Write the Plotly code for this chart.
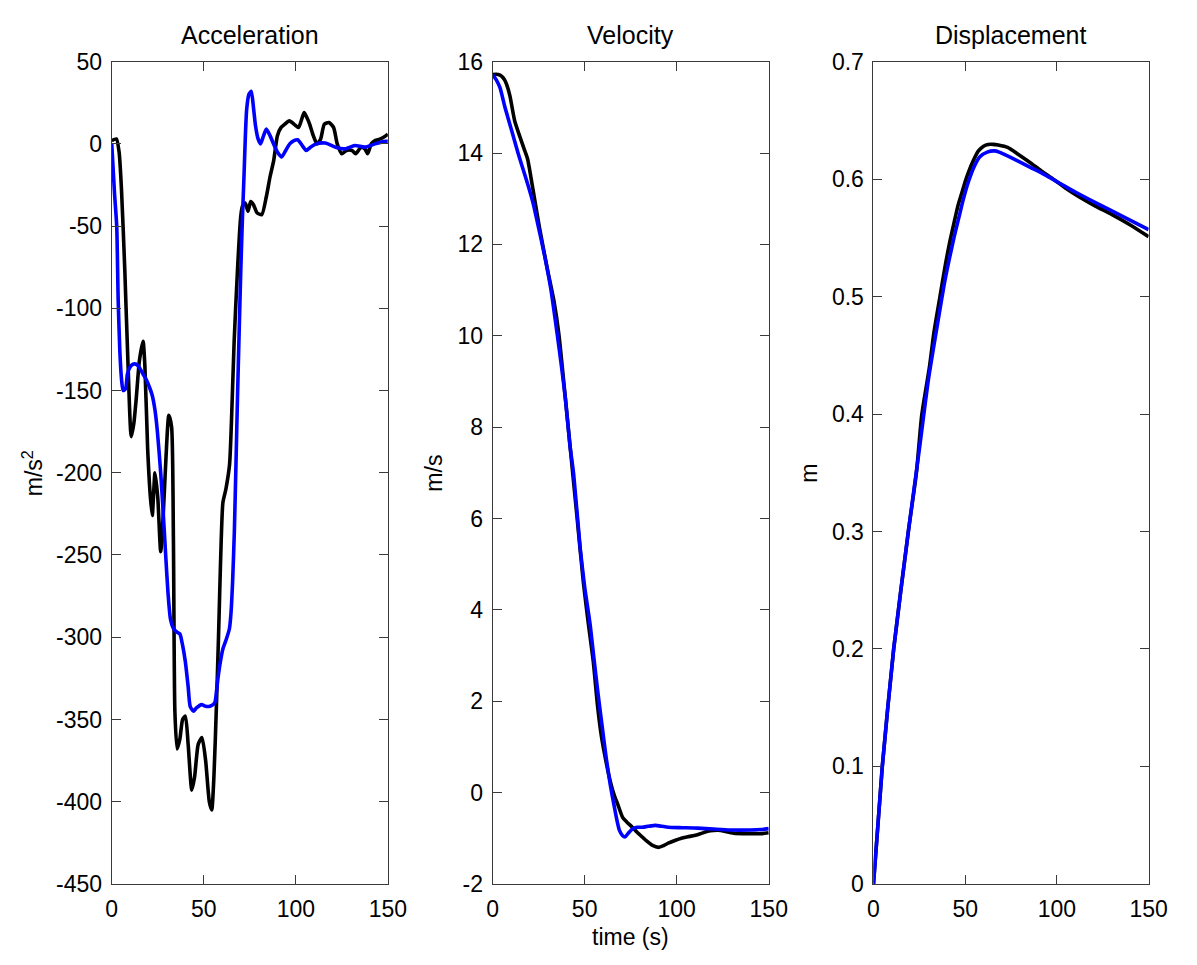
import plotly.graph_objects as go

# ---- Acceleration (m/s^2) ----
acc_meas_t = [0, 2.5, 4, 5.3, 7.1, 8.9, 10.6, 12, 13.3, 15, 17, 18, 19.5, 21, 22, 23.5, 25, 26.6,
              28, 29.5, 31, 32.5, 33.5, 34.3, 35.5, 37, 38.5, 40, 41.5, 43.5, 45, 47, 49, 51, 53,
              54.3, 55.5, 56.8, 58, 58.6, 59.5, 60.4, 62, 64, 65, 66.5, 68.3, 70, 71, 72.5, 74,
              75.5, 77, 79, 81.5, 84, 86, 88, 90, 92, 94, 96.5, 99, 101.5, 104.5, 106, 107.5,
              109.5, 111.5, 113.5, 115.5, 118, 120.5, 122.5, 125, 127.5, 130.5, 132.5, 135.5,
              137.5, 139, 141, 143, 146, 149, 150]
acc_meas = [2, 3, -5, -28, -77, -136, -178, -170, -155, -132, -120, -135, -185, -215, -226, -200,
            -215, -248, -225, -190, -165, -172, -240, -345, -368, -362, -350, -348, -365, -393,
            -385, -365, -361, -375, -400, -405, -385, -344, -300, -275, -240, -218, -210, -195,
            -170, -120, -77, -45, -38, -36, -41, -35, -37, -42, -43, -32, -20, -10, 5, 10, 12,
            14, 12, 10, 19, 16, 12, 5, 0, 3, 12, 13, 10, 0, -6, -4, -4, -6, -2, -3, -6, 0, 2, 3,
            5, 6]

acc_model_t = [0, 1.5, 2.7, 3.5, 4.4, 5.3, 6.2, 7.5, 8.5, 9.8, 11.5, 13.3, 15, 17, 18.6, 20.5,
               22, 23.5, 24.8, 26.6, 28, 29.3, 30.5, 31.9, 33.7, 35.5, 37, 38.5, 40, 41.5, 42.6,
               44.4, 46, 48.8, 51, 53.3, 55.9, 57, 57.7, 59, 60.4, 62, 63.9, 64.8, 65.7, 66.6,
               67.5, 68.3, 69.2, 70.1, 71, 71.9, 72.6, 73.3, 74.5, 75.8, 77, 78.1, 79.5, 80.8,
               82.5, 84, 86, 87.9, 90, 92.3, 94.5, 96.7, 99, 101, 103.5, 105.6, 108, 111, 116,
               121.6, 127, 132, 137.6, 143, 149, 150]
acc_model = [0, -30, -50, -95, -126, -143, -150, -149, -140, -136, -134, -134, -136, -140, -143,
             -148, -153, -162, -175, -200, -225, -250, -272, -289, -295, -297, -298, -305, -315,
             -330, -342, -345, -343, -341, -342, -342, -340, -332, -325, -315, -307, -302, -295,
             -285, -265, -236, -194, -155, -115, -77, -45, -18, 5, 21, 30, 32, 22, 11, 3, 0, 5,
             9, 5, 0, -5, -8, -4, 0, 2, 2.5, -1, -4, -2, 0, 0.5, -2, -3, -1, -2, 0, 1.5, 1.5]

# ---- Velocity (m/s) ----
vel_meas_t = [0, 3, 5, 6.5, 7.6, 9.4, 12, 14.7, 17, 19, 21.8, 25.4, 29.8, 33.4, 36, 39.6, 43,
              45.8, 49.3, 52, 54.7, 57, 59.1, 61.5, 63.6, 66, 68, 70.7, 73, 75.9, 78.5, 81.2, 84,
              86.6, 90.2, 93, 95.4, 99, 102.6, 106, 109.7, 113, 116.8, 120, 123.9, 127, 131, 136,
              141.6, 146, 150]
vel_meas = [15.72, 15.72, 15.68, 15.6, 15.5, 15.25, 14.7, 14.37, 14.1, 13.87, 13.23, 12.38, 11.45,
            10.74, 10.03, 8.6, 7.2, 6.05, 4.6, 3.7, 2.86, 1.9, 1.23, 0.7, 0.3, -0.05, -0.26,
            -0.55, -0.65, -0.76, -0.87, -0.97, -1.07, -1.15, -1.2, -1.16, -1.11, -1.05, -1.0,
            -0.97, -0.94, -0.9, -0.85, -0.83, -0.83, -0.86, -0.89, -0.9, -0.9, -0.9, -0.88]

vel_model_t = [0, 2, 4, 6.7, 10.3, 13.8, 16.5, 19.2, 22, 24.5, 28, 31.6, 35.1, 37.5, 39.6, 42, 44,
               47.6, 50, 52.9, 55, 57.3, 59.5, 61.8, 64, 66.2, 67.5, 68.9, 70.5, 72, 73.5, 75.9,
               78.5, 81.2, 84.5, 88.4, 92, 95.4, 103, 111.4, 120, 129, 140, 146, 150]
vel_model = [15.72, 15.6, 15.43, 15.0, 14.5, 14.0, 13.65, 13.3, 12.9, 12.45, 11.8, 11.03, 10.03,
             9.3, 8.6, 7.6, 6.98, 5.34, 4.5, 3.7, 2.95, 2.15, 1.45, 0.73, 0.15, -0.33, -0.6,
             -0.83, -0.94, -0.97, -0.9, -0.8, -0.76, -0.76, -0.74, -0.72, -0.74, -0.76, -0.77,
             -0.78, -0.8, -0.82, -0.82, -0.81, -0.79]

# ---- Displacement (m) ----
disp_meas_t = [0, 4.8, 11, 19, 23.4, 26.3, 30.5, 33, 35.8, 39.4, 41.5, 43.8, 46, 48.3, 50, 51.8,
               54.5, 57.2, 60, 62.5, 65.2, 68, 73.1, 79, 85.5, 91.5, 98, 105, 112, 121, 129.8,
               140, 150]
disp_meas = [0, 0.1, 0.2, 0.3, 0.35, 0.399, 0.44, 0.47, 0.496, 0.529, 0.546, 0.562, 0.577, 0.589,
             0.598, 0.606, 0.616, 0.624, 0.628, 0.6295, 0.6296, 0.629, 0.627, 0.621, 0.614,
             0.607, 0.6, 0.592, 0.585, 0.577, 0.57, 0.561, 0.551]

disp_model_t = [0, 4.8, 11, 19, 25, 30, 35.8, 38.5, 41.2, 44, 46.5, 49, 51.8, 55, 58, 62, 66,
                68.5, 71.3, 78, 85.5, 93, 101.5, 110, 121, 135, 150]
disp_model = [0, 0.1, 0.2, 0.3, 0.37, 0.43, 0.485, 0.51, 0.531, 0.551, 0.567, 0.583, 0.598,
              0.611, 0.619, 0.623, 0.624, 0.623, 0.621, 0.616, 0.61, 0.604, 0.5965, 0.589, 0.58,
              0.569, 0.557]

titles = ["Acceleration", "Velocity", "Displacement"]
y_labels = ["m/s<sup>2</sup>", "m/s", "m"]
x_label = "time (s)"
x_ticks = [0, 50, 100, 150]
acc_ticks = list(range(-450, 51, 50))
vel_ticks = list(range(-2, 17, 2))
disp_ticks = [0, 0.1, 0.2, 0.3, 0.4, 0.5, 0.6, 0.7]
disp_tick_text = ["0", "0.1", "0.2", "0.3", "0.4", "0.5", "0.6", "0.7"]

W, H = 1197, 965
FONT = "Liberation Sans, Arial, Helvetica, sans-serif"
AX_COLOR = "#3a3a3a"
LW = 3.6
TICK_SIZE = 23
TITLE_SIZE = 25

# panel boxes in pixels: (left, right), shared top/bottom
panels_px = [(108, 390), (497, 779), (886, 1167)]
top_px, bot_px = 50, 895


def px_x(p):
    return p / W


def px_y(p):
    return 1 - p / H


fig = go.Figure()

series = [
    (acc_meas_t, acc_meas, acc_model_t, acc_model),
    (vel_meas_t, vel_meas, vel_model_t, vel_model),
    (disp_meas_t, disp_meas, disp_model_t, disp_model),
]

for i, (tm, ym, tb, yb) in enumerate(series):
    xa = "x" if i == 0 else f"x{i + 1}"
    ya = "y" if i == 0 else f"y{i + 1}"
    fig.add_trace(go.Scatter(x=tm, y=ym, mode="lines", xaxis=xa, yaxis=ya,
                             line=dict(color="black", width=LW, shape="spline", smoothing=0.6),
                             showlegend=False, hoverinfo="skip"))
    fig.add_trace(go.Scatter(x=tb, y=yb, mode="lines", xaxis=xa, yaxis=ya,
                             line=dict(color="#0000ff", width=LW, shape="spline", smoothing=0.6),
                             showlegend=False, hoverinfo="skip"))

common_axis = dict(showline=True, linecolor=AX_COLOR, linewidth=1, mirror="ticks",
                   ticks="inside", ticklen=9, tickwidth=1, tickcolor=AX_COLOR,
                   showgrid=False, zeroline=False,
                   tickfont=dict(family=FONT, size=TICK_SIZE, color="black"))

y_specs = [
    dict(range=[-450, 50], tickvals=acc_ticks, ticktext=[str(v) for v in acc_ticks]),
    dict(range=[-2, 16], tickvals=vel_ticks, ticktext=[str(v) for v in vel_ticks]),
    dict(range=[0, 0.7], tickvals=disp_ticks, ticktext=disp_tick_text),
]

layout_axes = {}
for i, (l, r) in enumerate(panels_px):
    suffix = "" if i == 0 else str(i + 1)
    anchor_x = "y" if i == 0 else f"y{i + 1}"
    anchor_y = "x" if i == 0 else f"x{i + 1}"
    layout_axes[f"xaxis{suffix}"] = dict(common_axis, domain=[px_x(l), px_x(r)], range=[0, 150],
                                         tickvals=x_ticks, ticktext=[str(v) for v in x_ticks],
                                         anchor=anchor_x, ticklabelstandoff=5)
    layout_axes[f"yaxis{suffix}"] = dict(common_axis, domain=[px_y(bot_px), px_y(top_px)],
                                         anchor=anchor_y, ticklabelstandoff=4, **y_specs[i])

fig.update_layout(**layout_axes)

annotations = []
ylabel_centers = [27, 437, 820]
for i, (l, r) in enumerate(panels_px):
    annotations.append(dict(text=titles[i], x=px_x((l + r) / 2), y=px_y(39), xref="paper",
                            yref="paper", xanchor="center", yanchor="bottom", showarrow=False,
                            font=dict(family=FONT, size=TITLE_SIZE, color="black")))
    annotations.append(dict(text=y_labels[i], x=px_x(ylabel_centers[i]),
                            y=px_y((top_px + bot_px) / 2), xref="paper", yref="paper",
                            xanchor="center", yanchor="middle", textangle=-90, showarrow=False,
                            font=dict(family=FONT, size=TICK_SIZE, color="black")))
annotations.append(dict(text=x_label, x=px_x((panels_px[1][0] + panels_px[1][1]) / 2),
                        y=px_y(965), xref="paper", yref="paper", xanchor="center",
                        yanchor="bottom", showarrow=False,
                        font=dict(family=FONT, size=TICK_SIZE, color="black")))

fig.update_layout(width=W, height=H, margin=dict(l=0, r=0, t=0, b=0),
                  paper_bgcolor="white", plot_bgcolor="white", annotations=annotations,
                  showlegend=False)

fig.write_html("out.html")
